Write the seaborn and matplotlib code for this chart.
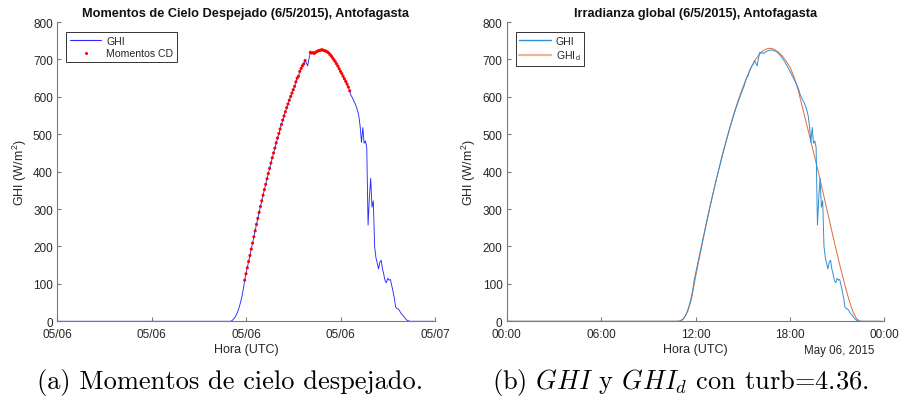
import numpy as np
import pandas as pd
import matplotlib
matplotlib.use("Agg")
import matplotlib.pyplot as plt
import matplotlib.dates as mdates
from matplotlib.lines import Line2D
import seaborn as sns

# ---------------- data ----------------
day = "2015-05-06"
ghi_start = "10:55"  # 5-minute GHI samples (W/m2); zero outside this window
ghi_day = [
    0,
    0, 1, 4, 8, 13, 20, 29, 40, 53, 68, 87, 110,
    127, 143, 160, 176, 193, 209, 226, 242, 259, 275, 291, 307,
    322, 337, 352, 366, 381, 395, 409, 423, 437, 450, 463, 477,
    490, 502, 514, 526, 538, 549, 560, 571, 581, 591, 601, 610,
    619, 628, 640, 650, 655, 668, 676, 683, 688, 697, 690, 683,
    702, 719, 717, 718, 716, 719, 721, 723, 724, 725, 726, 724,
    723, 722, 720, 717, 713, 709, 704, 699, 694, 688, 682, 675,
    668, 662, 655, 648, 641, 634, 626, 616, 604, 598, 590, 583,
    574, 563, 548, 520, 478, 518, 476, 482, 465, 257, 330, 382,
    305, 322, 200, 170, 155, 140, 158, 163, 140, 125, 108, 103,
    115, 110, 112, 96, 80, 62, 38, 34, 33, 28, 22, 18,
    14, 9, 5, 2, 1, 0,
]
# clear-sky moments (time windows flagged by the detector)
cd_windows = [("11:55", "15:45"), ("16:05", "18:35")]

ghid_start = "10:45"  # 15-minute clear-sky model GHI_d (turb=4.36)
ghid_day = [
    0, 1, 7, 26, 60,
    118, 170, 222, 272,
    320, 366, 410, 452,
    491, 528, 563, 595,
    624, 651, 675, 695,
    711, 722, 728, 730,
    727, 720, 710, 696,
    680, 655, 622, 580,
    537, 495, 452, 409,
    364, 318, 272, 225,
    180, 137, 96, 58,
    26, 6, 0,
]

yticks = [0, 100, 200, 300, 400, 500, 600, 700, 800]
title_a = "Momentos de Cielo Despejado (6/5/2015), Antofagasta"
title_b = "Irradianza global (6/5/2015), Antofagasta"
caption_a = "(a) Momentos de cielo despejado."
caption_b = r"(b) $GHI$ y $GHI_d$ con turb=4.36."

# ---------------- frames ----------------
full_idx = pd.date_range(f"{day} 00:00", f"{day} 23:55", freq="5min")
ghi_idx = pd.date_range(f"{day} {ghi_start}", periods=len(ghi_day), freq="5min")
ghi = pd.Series(ghi_day, index=ghi_idx, dtype=float).reindex(full_idx, fill_value=0.0)
df = pd.DataFrame({"t": full_idx, "GHI": ghi.values})
mask = np.zeros(len(df), dtype=bool)
for a, b in cd_windows:
    mask |= (df["t"] >= pd.Timestamp(f"{day} {a}")) & (df["t"] <= pd.Timestamp(f"{day} {b}"))
df_cd = df[mask]

full15 = pd.date_range(f"{day} 00:00", f"{day} 23:45", freq="15min")
gd_idx = pd.date_range(f"{day} {ghid_start}", periods=len(ghid_day), freq="15min")
gd = pd.Series(ghid_day, index=gd_idx, dtype=float).reindex(full15, fill_value=0.0)
df_d = pd.DataFrame({"t": full15, "GHId": gd.values})

# ---------------- style ----------------
sns.set_theme(style="white")
plt.rcParams["font.family"] = ["Liberation Sans", "DejaVu Sans"]
plt.rcParams["mathtext.fontset"] = "custom"
plt.rcParams["mathtext.rm"] = "Liberation Sans"
plt.rcParams["mathtext.it"] = "cmmi10"
plt.rcParams["mathtext.bf"] = "Liberation Sans:bold"

spine_c = "#7a7a7a"
text_c = "#262626"
blue_a = "#2a2aff"
blue_b = "#2f8fd6"
orange_b = "#e06a3a"

fig = plt.figure(figsize=(9.01, 4.06), dpi=100)
axA = fig.add_axes([57 / 901, 1 - 322.3 / 406, 378 / 901, 299.3 / 406])
axB = fig.add_axes([506.7 / 901, 1 - 322.3 / 406, 377.6 / 901, 299.3 / 406])

t0 = pd.Timestamp(f"{day} 00:00")
t1 = pd.Timestamp("2015-05-07 00:00")

sns.lineplot(data=df, x="t", y="GHI", ax=axA, color=blue_a, lw=0.65, zorder=3, legend=False)
sns.scatterplot(data=df_cd, x="t", y="GHI", ax=axA, color="#ff0000", s=5, marker="o",
                edgecolor="none", zorder=4, legend=False)

sns.lineplot(data=df, x="t", y="GHI", ax=axB, color=blue_b, lw=0.7, zorder=3, legend=False)
sns.lineplot(data=df_d, x="t", y="GHId", ax=axB, color=orange_b, lw=0.7, zorder=2, legend=False)

for ax in (axA, axB):
    ax.set_xlim(t0, t1)
    ax.set_ylim(0, 800)
    ax.set_yticks(yticks)
    ax.xaxis.set_major_locator(mdates.HourLocator(byhour=[0, 6, 12, 18]))
    for s in ("top", "right"):
        ax.spines[s].set_visible(False)
    for s in ("left", "bottom"):
        ax.spines[s].set_color(spine_c)
        ax.spines[s].set_linewidth(0.8)
    ax.tick_params(axis="both", direction="in", length=3, width=0.8, color=spine_c,
                   labelsize=8.5, labelcolor=text_c, bottom=True, left=True)
    ax.tick_params(axis="x", pad=5)
    ax.tick_params(axis="y", pad=3)
    ax.set_xlabel("Hora (UTC)", fontsize=9, color=text_c, labelpad=2)
    ax.set_ylabel(r"GHI (W/m$^2$)", fontsize=9, color=text_c, labelpad=3)

axA.xaxis.set_major_formatter(mdates.DateFormatter("%m/%d"))
axB.xaxis.set_major_formatter(mdates.DateFormatter("%H:%M"))

axA.set_title(title_a, fontsize=9.2, fontweight="bold", color="#111111", pad=4)
axB.set_title(title_b, fontsize=9.2, fontweight="bold", color="#111111", pad=4)

leg_kw = dict(loc="upper left", bbox_to_anchor=(9 / 378, 1 - 10 / 299), fontsize=7.6,
              frameon=True, fancybox=False, edgecolor="#333333", framealpha=1,
              handlelength=3.0, borderpad=0.35, labelspacing=0.25, handletextpad=0.45,
              borderaxespad=0.0)
handlesA = [Line2D([], [], color=blue_a, lw=0.8),
            Line2D([], [], color="#ff0000", lw=0, marker="o", markersize=2.2,
                   markeredgewidth=0)]
legA = axA.legend(handlesA, ["GHI", "Momentos CD"], **leg_kw)
legA.get_frame().set_linewidth(0.7)

handlesB = [Line2D([], [], color=blue_b, lw=1.0),
            Line2D([], [], color=orange_b, lw=1.6, alpha=0.5)]
legB = axB.legend(handlesB, ["GHI", r"GHI$_\mathrm{d}$"], **leg_kw)
legB.get_frame().set_linewidth(0.7)

fig.text(839 / 901, 1 - 351 / 406, "May 06, 2015", ha="center", va="center",
         fontsize=8.3, color=text_c)

cap_kw = dict(ha="center", va="center", fontsize=19, color="black", family="cmr10")
fig.text(230 / 901, 1 - 383 / 406, caption_a, **cap_kw)
fig.text(680 / 901, 1 - 383 / 406, caption_b, **cap_kw)

fig.savefig("out.png", dpi=100)
